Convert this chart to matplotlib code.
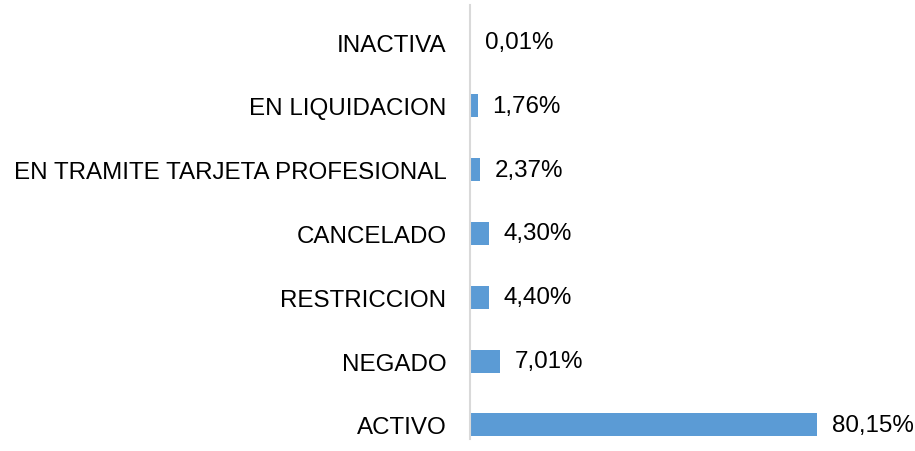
import matplotlib
matplotlib.use("Agg")
import matplotlib.pyplot as plt

categories = ["ACTIVO", "NEGADO", "RESTRICCION", "CANCELADO",
              "EN TRAMITE TARJETA PROFESIONAL", "EN LIQUIDACION", "INACTIVA"]
values = [80.15, 7.01, 4.40, 4.30, 2.37, 1.76, 0.01]
labels = ["80,15%", "7,01%", "4,40%", "4,30%", "2,37%", "1,76%", "0,01%"]

plt.rcParams['font.family'] = ['Liberation Sans', 'DejaVu Sans']

W, H = 915, 452
fig = plt.figure(figsize=(W / 100, H / 100), dpi=100)
left_px, right_px = 470, 870
top_px, bot_px = 6, 440
ax = fig.add_axes([left_px / W, (H - bot_px) / H, (right_px - left_px) / W, (bot_px - top_px) / H])

ypos = list(range(len(categories)))
ax.barh(ypos, values, height=0.36, color="#5B9BD5")
xmax = (right_px - left_px) / ((817 - 470) / 80.15)
ax.set_xlim(0, xmax)
ax.set_ylim(-0.22, 6.58)
ax.set_yticks(ypos)
ax.set_yticklabels(categories, fontsize=17.4)
ax.tick_params(axis='y', length=0, pad=17)
ax.set_xticks([])
for s in ["top", "right", "bottom"]:
    ax.spines[s].set_visible(False)
ax.spines["left"].set_color("#D9D9D9")
ax.spines["left"].set_linewidth(1.5)

for y, v, lab in zip(ypos, values, labels):
    ax.annotate(lab, xy=(v, y), xytext=(10.5, 0), textcoords="offset points",
                va="center", ha="left", fontsize=17.4, color="#000000")

fig.savefig("out.png", dpi=100)
